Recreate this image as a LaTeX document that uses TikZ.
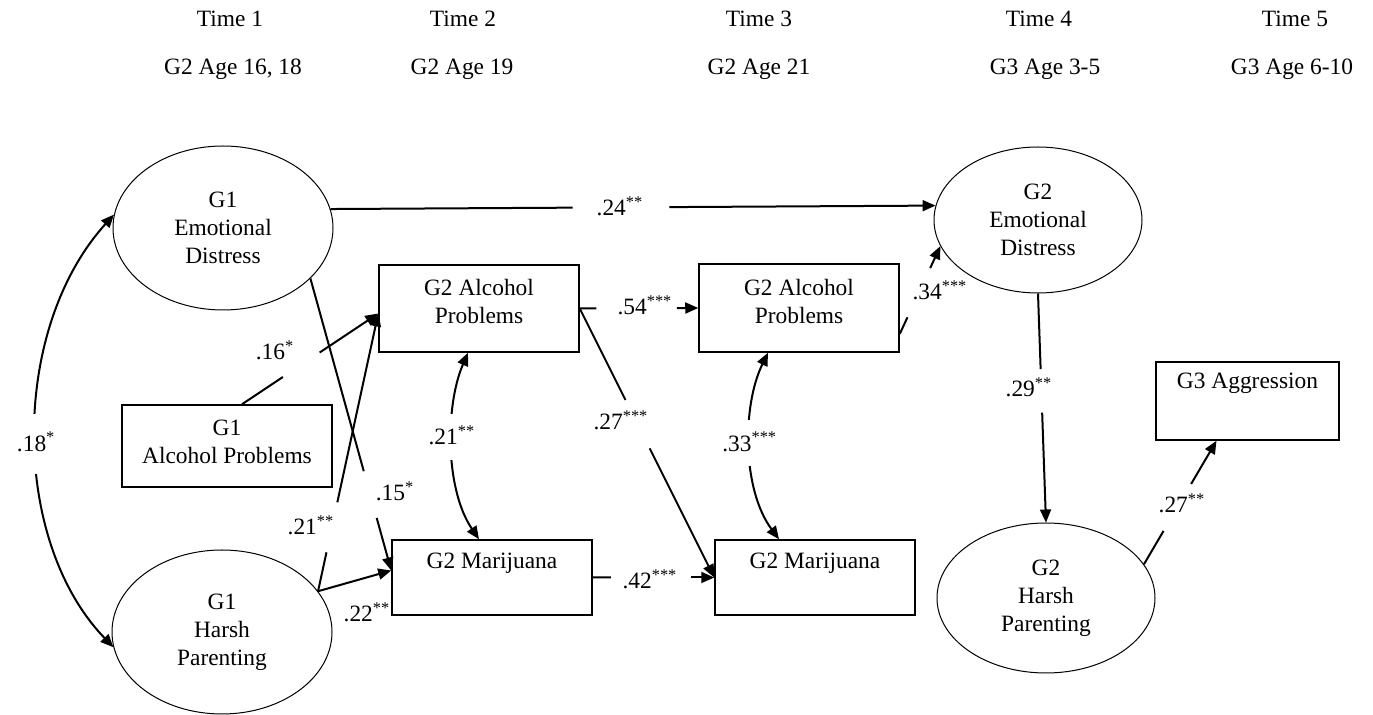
\documentclass[tikz,border=0pt]{standalone}
\usepackage{fontspec}
\setmainfont{Liberation Serif}
\usetikzlibrary{arrows.meta,shapes.geometric,calc}
\newcommand{\gapconn}[4]{%
  \draw[conn] (#1) -- ($(#1)!#3!(#2)$);
  \draw[arr] ($(#1)!#4!(#2)$) -- (#2);}
\begin{document}
\begin{tikzpicture}[x=0.5pt,y=-0.5pt,
  every node/.style={font=\fontsize{11.7}{14}\selectfont},
  hdr/.style={inner sep=0pt,text height=8pt,text depth=2.5pt},
  ell/.style={draw,ellipse,line width=0.5pt,inner sep=0pt,align=center},
  box/.style={draw,rectangle,line width=0.75pt,inner sep=0pt},
  txt/.style={align=center,inner sep=0pt},
  conn/.style={line width=1pt},
  tip/.tip={Triangle[length=6.5pt,width=5.5pt]},
  arr/.style={conn,-tip},
  dbl/.style={conn,tip-tip},
  lbl/.style={inner sep=0pt,text height=8pt,text depth=0pt},
  gaplbl/.style={fill=white,inner xsep=1pt,inner ysep=7.5pt,text height=8pt,text depth=0pt}
]
\useasboundingbox (0,0) rectangle (1373,715);

% headers
\node[hdr] (t1) at (230,21) {Time 1};
\node[hdr] (t2) at (463,21) {Time 2};
\node[hdr] (t3) at (759,21) {Time 3};
\node[hdr] (t4) at (1039,21) {Time 4};
\node[hdr] (t5) at (1295,21) {Time 5};
\node[hdr] (a1) at (233,69) {G2 Age 16, 18};
\node[hdr] (a2) at (462,69) {G2 Age 19};
\node[hdr] (a3) at (759,69) {G2 Age 21};
\node[hdr] (a4) at (1045,69) {G3 Age 3-5};
\node[hdr] (a5) at (1292,69) {G3 Age 6-10};

% ellipses
\node[ell, minimum width=110pt, minimum height=82pt] (ed1) at (223,228) {G1\\Emotional\\Distress};
\node[ell, minimum width=110pt, minimum height=82pt] (hp1) at (222,632) {G1\\Harsh\\Parenting};
\node[ell, minimum width=104pt, minimum height=73pt] (ed2) at (1038,220) {G2\\Emotional\\Distress};
\node[ell, minimum width=109pt, minimum height=75pt] (hp2) at (1046,598) {G2\\Harsh\\Parenting};

% boxes
\node[box, minimum width=105pt, minimum height=41pt] (ap1) at (227,446) {};
\node[txt] (ap1t) at (227,441.5) {G1\\Alcohol Problems};
\node[box, minimum width=100pt, minimum height=43.5pt] (ap2) at (479,308.5) {};
\node[txt] (ap2t) at (479,301.5) {G2 Alcohol\\Problems};
\node[box, minimum width=100pt, minimum height=44pt] (ap3) at (799,308) {};
\node[txt] (ap3t) at (799,301.5) {G2 Alcohol\\Problems};
\node[box, minimum width=100pt, minimum height=37.5pt] (m2) at (492,577.5) {};
\node[txt] (m2t) at (492,563) {G2 Marijuana};
\node[box, minimum width=100pt, minimum height=37.5pt] (m3) at (815,577.5) {};
\node[txt] (m3t) at (815,563) {G2 Marijuana};
\node[box, minimum width=91.5pt, minimum height=39pt] (agg) at (1247.5,401) {};
\node[txt] (aggt) at (1247.5,383) {G3 Aggression};

% connector end points
\coordinate (ap2in) at ($(ap2.west)+(0,5)$);
\coordinate (m2in) at ($(m2.west)+(0,-7)$);
\coordinate (ap1out) at ($(ap1.north)+(15,0)$);
\coordinate (ap3out) at ($(ap3.east)+(0,26)$);
\coordinate (aggin) at ($(agg.south)+(-31,0)$);

% straight paths
\gapconn{ed1.10}{ed2.172}{0.40}{0.56}
\node[lbl] (l24) at (620,208) {.24\textsuperscript{**}};
\gapconn{ap2.east}{ap3.west}{0.14}{0.82}
\node[lbl] (l54) at (645,307) {.54\textsuperscript{***}};
\gapconn{m2.east}{m3.west}{0.15}{0.81}
\node[lbl] (l42) at (650,581) {.42\textsuperscript{***}};
\gapconn{ap2.east}{m3.west}{0.34}{0.52}
\node[lbl] (l27a) at (621,422) {.27\textsuperscript{***}};
\gapconn{ap3out}{ed2.195}{0.19}{0.75}
\node[lbl] (l34) at (940,292) {.34\textsuperscript{***}};
\gapconn{ed2.south}{hp2.north}{0.33}{0.52}
\node[lbl] (l29) at (1029,389) {.29\textsuperscript{**}};
\gapconn{hp2.19}{aggin}{0.27}{0.65}
\node[lbl] (l27b) at (1182,505) {.27\textsuperscript{**}};
\gapconn{ap1out}{ap2in}{0.30}{0.57}
\node[lbl] (l16) at (275,352) {.16\textsuperscript{*}};
\gapconn{hp1.23}{ap2in}{0.14}{0.32}
\node[lbl] (l21a) at (311,527) {.21\textsuperscript{**}};
\draw[arr] (hp1.23) -- (m2in);
\node[lbl] (l22) at (367,614) {.22\textsuperscript{**}};
\gapconn{ed1.-30}{m2in}{0.66}{0.82}
\node[lbl] (l15) at (395,493) {.15\textsuperscript{*}};

% curved correlations
\draw[dbl] ($(ap2.south)+(-11,0)$) .. controls +(-23,53) and +(-34,-50) .. ($(m2.north)+(-13,0)$)
  node[pos=0.45, gaplbl] (l21b) {.21\textsuperscript{**}};
\draw[dbl] ($(ap3.south)+(-31,0)$) .. controls +(-26,53) and +(-37,-50) .. ($(m3.north)+(-36,0)$)
  node[pos=0.48, gaplbl] (l33) {.33\textsuperscript{***}};
\draw[dbl] (ed1.173) .. controls +(-104,115) and +(-103,-107) .. (hp1.188)
  node[pos=0.52, gaplbl, inner ysep=11pt] (l18) {.18\textsuperscript{*}};
\end{tikzpicture}
\end{document}
